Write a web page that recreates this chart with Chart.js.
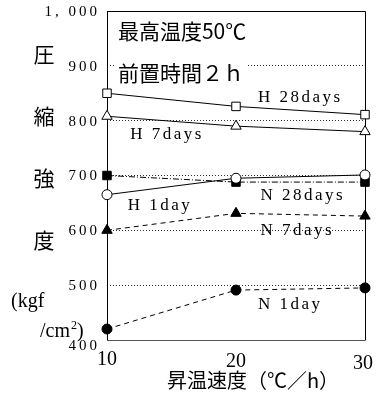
<!DOCTYPE html>
<html>
<head>
<meta charset="utf-8">
<script src="https://cdn.jsdelivr.net/npm/chart.js@4/dist/chart.umd.min.js"></script>
<style>
  html, body { margin: 0; padding: 0; background: #fff; }
  #wrap { width: 387px; height: 405px; position: relative; }
</style>
</head>
<body>
<div id="wrap"><canvas id="c"></canvas></div>
<script>
// rate of temperature rise (C/h)
var rates = [10, 20, 30];
var yTicks = [400, 500, 600, 700, 800, 900, 1000];

// compressive strength (kgf/cm2)
var h28 = [850, 826, 811];
var h7 = [808, 790, 780];
var h1 = [665, 695, 701];
var n28 = [700, 688, 688];
var n7 = [600, 631, 626];
var n1 = [420, 491, 495];

var seriesNames = ['H 28days', 'H 7days', 'H 1day', 'N 28days', 'N 7days', 'N 1day'];

// text notes anchored in data units [x, y]
var notes = [
  {t: '最高温度50℃', x: 10.85, y: 966, box: true},
  {t: '前置時間２ｈ', x: 10.85, y: 889, box: true},
  {t: seriesNames[0], x: 21.7, y: 842},
  {t: seriesNames[1], x: 11.8, y: 774},
  {t: seriesNames[2], x: 11.6, y: 646},
  {t: seriesNames[3], x: 21.9, y: 663},
  {t: seriesNames[4], x: 21.9, y: 599},
  {t: seriesNames[5], x: 21.7, y: 464}
];

function pts(arr){
  return arr.map(function(v, i){ return {x: rates[i], y: v}; });
}

var serif = "'Liberation Serif', 'Noto Sans CJK JP', serif";
var cjk = "'Noto Sans CJK JP', 'Liberation Serif', serif";

function ds(label, arr, style, filled, dash, r){
  return {
    label: label,
    data: pts(arr),
    borderColor: '#000',
    borderWidth: 1,
    borderDash: dash,
    pointStyle: style,
    pointRadius: r,
    pointBorderWidth: 1,
    pointBorderColor: '#000',
    pointBackgroundColor: filled ? '#000' : '#fff',
    fill: false,
    clip: false,
    tension: 0
  };
}

var decor = {
  id: 'decor',
  beforeDatasetsDraw: function(chart){
    var ctx = chart.ctx, a = chart.chartArea;
    var xs = chart.scales.x, ys = chart.scales.y;
    ctx.save();
    // frame
    ctx.strokeStyle = '#000';
    ctx.lineWidth = 1;
    ctx.beginPath();
    ctx.moveTo(a.left + 0.5, a.top + 0.5);
    ctx.lineTo(a.right + 0.5, a.top + 0.5);
    ctx.lineTo(a.right + 0.5, a.bottom + 0.5);
    ctx.stroke();
    ctx.strokeStyle = '#555';
    ctx.beginPath();
    ctx.moveTo(a.left, a.bottom + 0.5);
    ctx.lineTo(a.right, a.bottom + 0.5);
    ctx.stroke();
    ctx.strokeStyle = '#000';
    ctx.beginPath();
    ctx.moveTo(a.left + 0.5, a.top);
    ctx.lineTo(a.left + 0.5, a.bottom);
    ctx.stroke();

    // y tick labels
    ctx.fillStyle = '#000';
    ctx.textAlign = 'right';
    ctx.textBaseline = 'middle';
    ctx.font = '15px ' + serif;
    ctx.letterSpacing = '3px';
    yTicks.forEach(function(v){
      var s = v >= 1000 ? '1, 000' : String(v);
      var dy = v === 400 ? 6 : 1;
      ctx.fillText(s, a.left - 7, ys.getPixelForValue(v) + dy);
    });

    // x tick labels
    ctx.letterSpacing = '0px';
    ctx.textAlign = 'center';
    ctx.font = '20px ' + serif;
    rates.forEach(function(v, i){
      ctx.fillText(String(v), xs.getPixelForValue(v) + (i === 2 ? -2 : 0), a.bottom + 20 + i * 2);
    });

    // x title
    ctx.font = '20px ' + cjk;
    ctx.fillText('昇温速度（℃／h）', 253, a.bottom + 40);

    // y title
    ctx.font = '21px ' + cjk;
    ['圧', '縮', '強', '度'].forEach(function(c, i){
      ctx.fillText(c, 44, 54 + i * 62);
    });
    ctx.textAlign = 'left';
    ctx.font = '20px ' + serif;
    ctx.fillText('(kgf', 11, 302);
    var x0 = 40;
    ctx.fillText('/cm', x0, 332);
    x0 += ctx.measureText('/cm').width;
    ctx.font = '12px ' + serif;
    ctx.fillText('2', x0 + 1, 326);
    x0 += ctx.measureText('2').width + 1;
    ctx.font = '20px ' + serif;
    ctx.fillText(')', x0, 332);
    ctx.restore();
  },
  afterDatasetsDraw: function(chart){
    var ctx = chart.ctx;
    var xs = chart.scales.x, ys = chart.scales.y;
    ctx.save();
    ctx.textAlign = 'left';
    ctx.textBaseline = 'middle';
    ctx.fillStyle = '#000';
    notes.forEach(function(n){
      var px = xs.getPixelForValue(n.x), py = ys.getPixelForValue(n.y);
      if (n.box) {
        ctx.font = '21px ' + cjk;
        ctx.letterSpacing = '0px';
        var w = ctx.measureText(n.t).width;
        ctx.fillStyle = '#fff';
        ctx.fillRect(px - 3, py - 13, w + 6, 26);
        ctx.fillStyle = '#000';
        ctx.fillText(n.t, px, py + 1);
      } else {
        ctx.font = '17px ' + serif;
        ctx.letterSpacing = '2.5px';
        ctx.fillText(n.t, px, py);
      }
    });
    ctx.restore();
  }
};

new Chart(document.getElementById('c'), {
  type: 'line',
  data: {
    datasets: [
      ds(seriesNames[0], h28, 'rect', false, [], 6),
      ds(seriesNames[1], h7, 'triangle', false, [], 6),
      ds(seriesNames[2], h1, 'circle', false, [], 5),
      ds(seriesNames[3], n28, 'rect', true, [6, 2, 1, 2], 6),
      ds(seriesNames[4], n7, 'triangle', true, [5, 4], 6),
      ds(seriesNames[5], n1, 'circle', true, [5, 4], 5)
    ]
  },
  plugins: [decor],
  options: {
    responsive: true,
    maintainAspectRatio: false,
    animation: false,
    layout: { padding: { left: 107, right: 22, top: 11, bottom: 57 } },
    plugins: { legend: { display: false }, tooltip: { enabled: false } },
    scales: {
      x: {
        type: 'linear', min: 10, max: 30,
        ticks: { display: false, stepSize: 10 },
        grid: { display: false },
        border: { display: false }
      },
      y: {
        min: 400, max: 1000,
        afterBuildTicks: function(s){ s.ticks = yTicks.map(function(v){ return {value: v}; }); },
        ticks: { display: false },
        grid: {
          drawTicks: false,
          color: function(c){ return (c.tick && (c.tick.value === 400 || c.tick.value === 1000)) ? 'rgba(0,0,0,0)' : '#333'; },
          lineWidth: 1
        },
        border: { display: false, dash: [1, 2] }
      }
    }
  }
});
</script>
</body>
</html>
